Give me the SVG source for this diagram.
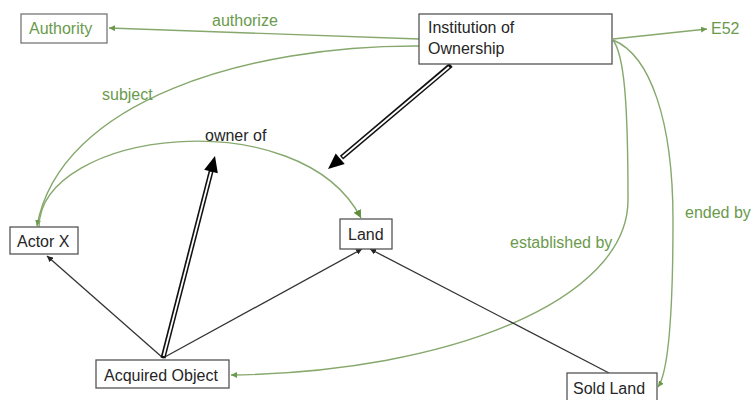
<svg xmlns="http://www.w3.org/2000/svg" width="755" height="400" viewBox="0 0 755 400">
<defs>
<style>
.box{fill:#fff;stroke:#555;stroke-width:1.3}
.gbox{fill:#fff;stroke:#777;stroke-width:1.3}
.t{font-family:"Liberation Sans",Arial,sans-serif;font-size:16px;fill:#262626}
.gt{font-family:"Liberation Sans",Arial,sans-serif;font-size:16px;fill:#6a9a4c}
.g{fill:none;stroke:#86a86c;stroke-width:1.4}
.k{fill:none;stroke:#333;stroke-width:1.3}
.dbl{fill:none;stroke:#111;stroke-width:5}
.dbli{fill:none;stroke:#fff;stroke-width:1.8}
</style>
<marker id="ga" viewBox="0 0 6 6" refX="6" refY="3" markerWidth="6" markerHeight="6" markerUnits="userSpaceOnUse" orient="auto"><path d="M0,0 L6,3 L0,6 z" fill="#6a9a4c"/></marker>
<marker id="gb" viewBox="0 0 8 8" refX="8" refY="4" markerWidth="8" markerHeight="8" markerUnits="userSpaceOnUse" orient="auto"><path d="M0,0 L8,4 L0,8 z" fill="#5f8f3e"/></marker>
<marker id="ka" viewBox="0 0 6 6" refX="6" refY="3" markerWidth="6" markerHeight="6" markerUnits="userSpaceOnUse" orient="auto"><path d="M0,0 L6,3 L0,6 z" fill="#222"/></marker>
</defs>
<g id="connectors">
<path class="g" d="M419,39 L109,28" marker-end="url(#ga)"/>
<path class="g" d="M613,39 L707,29" marker-end="url(#ga)"/>
<path class="g" d="M419,46 C250,45 60,100 37,226" marker-end="url(#ga)"/>
<path class="g" d="M39,227 C40,130 300,100 361,218" marker-end="url(#gb)"/>
<path class="g" d="M613,40 C624,55 628,100 628,200 C628,300 450,372 231,375" marker-end="url(#ga)"/>
<path class="g" d="M613,40 C650,55 673,120 673,220 C673,300 670,370 658,387" marker-end="url(#ga)"/>
<path class="k" d="M163,358 L47,256" marker-end="url(#ka)"/>
<path class="k" d="M163,358 L362,249" marker-end="url(#ka)"/>
<path class="k" d="M609,373 L370,249" marker-end="url(#ka)"/>
<path class="dbl" d="M451,65 L341.5,157.6"/>
<path class="dbli" d="M449,67 L342.5,156.8"/>
<polygon points="328,169 344.7,164 335.7,153.4" fill="#000"/>
<path class="dbl" d="M163,358 L211.3,170.5"/>
<path class="dbli" d="M163.6,356 L211,171.8"/>
<polygon points="215,156 217.8,173.2 204.2,169.8" fill="#000"/>
</g>
<g id="labels">
<text class="gt" x="212" y="26">authorize</text>
<text class="gt" x="102" y="100">subject</text>
<text class="t" x="205" y="141">owner of</text>
<text class="gt" x="510" y="248">established by</text>
<text class="gt" x="685" y="218">ended by</text>
</g>
<g id="authority"><rect class="gbox" x="21" y="14" width="86" height="29"/><text class="gt" x="29" y="34">Authority</text></g>
<g id="institution"><rect class="box" x="419" y="14" width="193" height="50"/><text class="t" x="428" y="33">Institution of</text><text class="t" x="428" y="54">Ownership</text></g>
<g id="e52"><text class="gt" x="711" y="34">E52</text></g>
<g id="actor"><rect class="box" x="10" y="227" width="68" height="27"/><text class="t" x="17" y="247">Actor X</text></g>
<g id="land"><rect class="box" x="340" y="219" width="52" height="30"/><text class="t" x="348" y="240">Land</text></g>
<g id="acquired"><rect class="box" x="96" y="360" width="133" height="28"/><text class="t" x="104" y="381">Acquired Object</text></g>
<g id="sold"><rect class="box" x="567" y="373" width="90" height="30"/><text class="t" x="573" y="394">Sold Land</text></g>
</svg>
